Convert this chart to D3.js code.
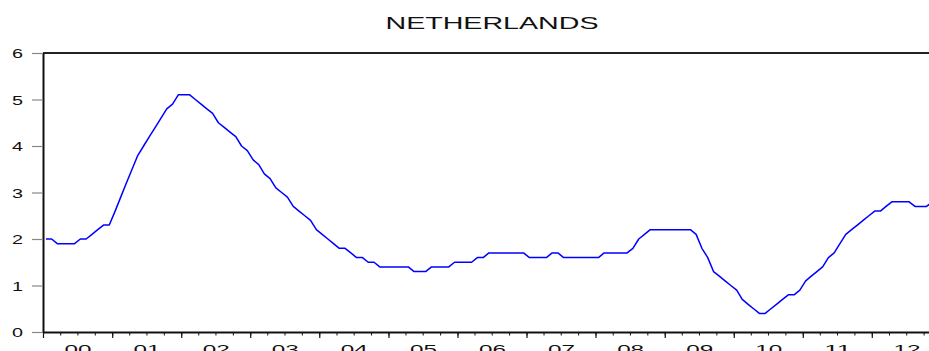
<!DOCTYPE html>
<html>
<head>
<meta charset="utf-8">
<script src="https://cdn.jsdelivr.net/npm/d3@7"></script>
<style>
  body { margin: 0; background: #fff; }
  svg { display: block; font-family: "Liberation Sans", Arial, sans-serif; }
</style>
</head>
<body>
<script>
// monthly values, 2000M01 .. 2012M12, one array per year
const y2000 = [2.0, 2.0, 1.9, 1.9, 1.9, 1.9, 2.0, 2.0, 2.1, 2.2, 2.3, 2.3];
const y2001 = [2.6, 2.9, 3.2, 3.5, 3.8, 4.0, 4.2, 4.4, 4.6, 4.8, 4.9, 5.1];
const y2002 = [5.1, 5.1, 5.0, 4.9, 4.8, 4.7, 4.5, 4.4, 4.3, 4.2, 4.0, 3.9];
const y2003 = [3.7, 3.6, 3.4, 3.3, 3.1, 3.0, 2.9, 2.7, 2.6, 2.5, 2.4, 2.2];
const y2004 = [2.1, 2.0, 1.9, 1.8, 1.8, 1.7, 1.6, 1.6, 1.5, 1.5, 1.4, 1.4];
const y2005 = [1.4, 1.4, 1.4, 1.4, 1.3, 1.3, 1.3, 1.4, 1.4, 1.4, 1.4, 1.5];
const y2006 = [1.5, 1.5, 1.5, 1.6, 1.6, 1.7, 1.7, 1.7, 1.7, 1.7, 1.7, 1.7];
const y2007 = [1.6, 1.6, 1.6, 1.6, 1.7, 1.7, 1.6, 1.6, 1.6, 1.6, 1.6, 1.6];
const y2008 = [1.6, 1.7, 1.7, 1.7, 1.7, 1.7, 1.8, 2.0, 2.1, 2.2, 2.2, 2.2];
const y2009 = [2.2, 2.2, 2.2, 2.2, 2.2, 2.1, 1.8, 1.6, 1.3, 1.2, 1.1, 1.0];
const y2010 = [0.9, 0.7, 0.6, 0.5, 0.4, 0.4, 0.5, 0.6, 0.7, 0.8, 0.8, 0.9];
const y2011 = [1.1, 1.2, 1.3, 1.4, 1.6, 1.7, 1.9, 2.1, 2.2, 2.3, 2.4, 2.5];
const y2012 = [2.6, 2.6, 2.7, 2.8, 2.8, 2.8, 2.8, 2.7, 2.7, 2.7, 2.8, 2.8];

const years = [2000, 2001, 2002, 2003, 2004, 2005, 2006, 2007, 2008, 2009, 2010, 2011, 2012];
const yearLabels = ["00", "01", "02", "03", "04", "05", "06", "07", "08", "09", "10", "11", "12"];
const yTicks = [0, 1, 2, 3, 4, 5, 6];
const title = "NETHERLANDS";

const yearly = [y2000, y2001, y2002, y2003, y2004, y2005, y2006, y2007, y2008, y2009, y2010, y2011, y2012];
const dataset = [];
yearly.forEach((vals, i) => {
    vals.forEach((v, m) => dataset.push({date: new Date(years[i], m, 1), value: v}));
});

const W = 929, H = 351;
const margin = {top: 53, right: -12, bottom: 19, left: 43};
const width = W - margin.left - margin.right;
const height = H - margin.top - margin.bottom;

const svg = d3.select("body").append("svg")
    .attr("width", W)
    .attr("height", H);

const g = svg.append("g")
    .attr("transform", "translate(" + margin.left + "," + margin.top + ")");

// scales
const xScale = d3.scaleTime()
    .domain([new Date(years[0], 0, 1), new Date(years[years.length - 1] + 1, 0, 1)])
    .range([0, width]);
const yScale = d3.scaleLinear()
    .domain([0, 6])
    .range([height, 0]);

// observation sits in the middle of its month
const midMonth = d => (xScale(d.date) + xScale(d3.timeMonth.offset(d.date, 1))) / 2;

// title, stretched wide like the original
svg.append("text")
    .attr("x", 492)
    .attr("y", 29)
    .attr("text-anchor", "middle")
    .attr("textLength", 213)
    .attr("lengthAdjust", "spacingAndGlyphs")
    .style("font-size", "16.5px")
    .style("fill", "#111")
    .text(title);

// top frame line
g.append("line")
    .attr("x1", 0).attr("x2", width)
    .attr("y1", 0).attr("y2", 0)
    .attr("stroke", "#222")
    .attr("stroke-width", 2);

// y axis
const yAxisG = g.append("g")
    .call(d3.axisLeft(yScale).tickValues(yTicks).tickSize(11).tickSizeOuter(0).tickFormat(d3.format("d")));
yAxisG.select(".domain").attr("stroke", "#111").attr("stroke-width", 2);
yAxisG.selectAll(".tick line").attr("stroke", "#888").attr("stroke-width", 1.2);
yAxisG.selectAll(".tick text")
    .attr("x", -20)
    .attr("dy", "0.36em")
    .attr("textLength", 11)
    .attr("lengthAdjust", "spacingAndGlyphs")
    .style("font-size", "12.5px")
    .style("fill", "#111");

// x axis: quarter ticks
const xAxisG = g.append("g")
    .attr("transform", "translate(0," + height + ")")
    .call(d3.axisBottom(xScale).ticks(d3.timeMonth.every(3)).tickSize(3.5).tickSizeOuter(0).tickFormat(""));
xAxisG.select(".domain").attr("stroke", "#111").attr("stroke-width", 2);
xAxisG.selectAll(".tick line").attr("stroke", "#111");

// year ticks
const xMajor = g.append("g")
    .attr("transform", "translate(0," + height + ")")
    .call(d3.axisBottom(xScale).ticks(d3.timeYear.every(1)).tickSize(6).tickSizeOuter(0).tickFormat(""));
xMajor.select(".domain").remove();
xMajor.selectAll(".tick line").attr("stroke", "#111").attr("stroke-width", 1.2);

// year labels in the middle of each year
const xLabels = g.append("g")
    .attr("transform", "translate(0," + height + ")")
    .call(d3.axisBottom(xScale)
        .tickValues(years.map(y => new Date(y, 6, 2)))
        .tickSize(0)
        .tickFormat((d, i) => yearLabels[i]));
xLabels.select(".domain").remove();
xLabels.selectAll(".tick text")
    .attr("y", 0)
    .attr("dy", "21.5px")
    .attr("textLength", 27)
    .attr("lengthAdjust", "spacingAndGlyphs")
    .style("font-size", "13px")
    .style("fill", "#111");

// the series
const line = d3.line()
    .x(d => midMonth(d))
    .y(d => yScale(d.value));

g.append("path")
    .datum(dataset)
    .attr("fill", "none")
    .attr("stroke", "#0000ff")
    .attr("stroke-width", 1.5)
    .attr("stroke-linejoin", "round")
    .attr("d", line);
</script>
</body>
</html>
